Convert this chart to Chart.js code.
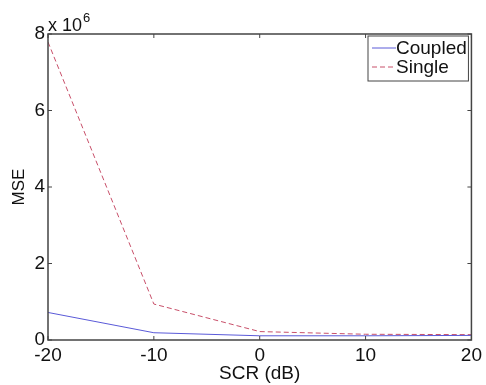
<!DOCTYPE html>
<html>
<head>
<meta charset="utf-8">
<script src="https://cdn.jsdelivr.net/npm/chart.js@4/dist/chart.umd.min.js"></script>
<style>
  html, body { margin: 0; padding: 0; background: #fff; }
  #wrap { width: 486px; height: 385px; }
</style>
</head>
<body>
<div id="wrap"><canvas id="mse-chart"></canvas></div>
<script>
const scrValues = [-20, -10, 0, 10, 20];
// MSE in units of 1e6
const coupledMse = [0.72, 0.19, 0.11, 0.11, 0.12];
const singleMse = [7.79, 0.94, 0.22, 0.15, 0.14];
const xTicks = [-20, -10, 0, 10, 20];
const yTicks = [0, 2, 4, 6, 8];

const FONT = "Liberation Sans, Arial, sans-serif";
const COUPLED_COLOR = "#5a5ad8";
const SINGLE_COLOR = "#c8506a";

// box around the plot, inward ticks, exponent label and legend (matlab style)
const matlabFrame = {
  id: "matlabFrame",
  afterDraw(chart) {
    const { ctx, chartArea: a, scales } = chart;
    ctx.save();
    ctx.strokeStyle = "#444";
    ctx.lineWidth = 1.5;
    ctx.strokeRect(a.left, a.top, a.right - a.left, a.bottom - a.top);

    ctx.lineWidth = 1;
    xTicks.forEach((v) => {
      const x = scales.x.getPixelForValue(v);
      ctx.beginPath();
      ctx.moveTo(x, a.bottom); ctx.lineTo(x, a.bottom - 4);
      ctx.moveTo(x, a.top); ctx.lineTo(x, a.top + 4);
      ctx.stroke();
    });
    yTicks.forEach((v) => {
      const y = scales.y.getPixelForValue(v);
      ctx.beginPath();
      ctx.moveTo(a.left, y); ctx.lineTo(a.left + 4, y);
      ctx.moveTo(a.right, y); ctx.lineTo(a.right - 4, y);
      ctx.stroke();
    });

    // exponent label
    ctx.fillStyle = "#111";
    ctx.textBaseline = "alphabetic";
    ctx.textAlign = "left";
    ctx.font = "18px " + FONT;
    ctx.fillText("x 10", a.left, a.top - 3);
    const w = ctx.measureText("x 10").width;
    ctx.font = "13px " + FONT;
    ctx.fillText("6", a.left + w + 1, a.top - 12);

    // legend
    const lx = 368, ly = a.top + 2, lw = a.right - lx - 3, lh = 45;
    ctx.fillStyle = "#fff";
    ctx.fillRect(lx, ly, lw, lh);
    ctx.strokeStyle = "#444";
    ctx.lineWidth = 1;
    ctx.strokeRect(lx, ly, lw, lh);
    chart.data.datasets.forEach((ds, i) => {
      const cy = ly + 12 + i * 19;
      ctx.strokeStyle = ds.borderColor;
      ctx.setLineDash(ds.borderDash || []);
      ctx.beginPath();
      ctx.moveTo(lx + 4, cy); ctx.lineTo(lx + 28, cy);
      ctx.stroke();
      ctx.setLineDash([]);
      ctx.fillStyle = "#111";
      ctx.font = "19px " + FONT;
      ctx.textBaseline = "middle";
      ctx.fillText(ds.label, lx + 28, cy + 1);
    });
    ctx.restore();
  },
};

const ctx = document.getElementById("mse-chart").getContext("2d");
new Chart(ctx, {
  type: "line",
  data: {
    datasets: [
      {
        label: "Coupled",
        data: scrValues.map((x, i) => ({ x: x, y: coupledMse[i] })),
        borderColor: COUPLED_COLOR,
        borderWidth: 1,
        pointRadius: 0,
        fill: false,
      },
      {
        label: "Single",
        data: scrValues.map((x, i) => ({ x: x, y: singleMse[i] })),
        borderColor: SINGLE_COLOR,
        borderWidth: 1,
        borderDash: [5, 3],
        pointRadius: 0,
        fill: false,
      },
    ],
  },
  options: {
    responsive: true,
    maintainAspectRatio: false,
    animation: false,
    layout: { padding: { top: 34, right: 11, left: 9, bottom: 0 } },
    plugins: { legend: { display: false }, tooltip: { enabled: false } },
    scales: {
      x: {
        type: "linear",
        min: -20,
        max: 20,
        afterBuildTicks: (s) => { s.ticks = xTicks.map((v) => ({ value: v })); },
        afterFit: (s) => { s.height = 45; },
        grid: { drawOnChartArea: false, drawTicks: false },
        border: { display: false },
        ticks: { color: "#111", font: { size: 19, family: FONT }, padding: 4, maxRotation: 0 },
        title: { display: true, text: "SCR (dB)", color: "#111", font: { size: 19, family: FONT }, padding: 0 },
      },
      y: {
        min: 0,
        max: 8,
        afterBuildTicks: (s) => { s.ticks = yTicks.map((v) => ({ value: v })); },
        afterFit: (s) => { s.width = 39; },
        grid: { drawOnChartArea: false, drawTicks: false },
        border: { display: false },
        ticks: { color: "#111", font: { size: 19, family: FONT }, padding: 3 },
        title: { display: true, text: "MSE", color: "#111", font: { size: 17, family: FONT }, padding: 0 },
      },
    },
  },
  plugins: [matlabFrame],
});
</script>
</body>
</html>
